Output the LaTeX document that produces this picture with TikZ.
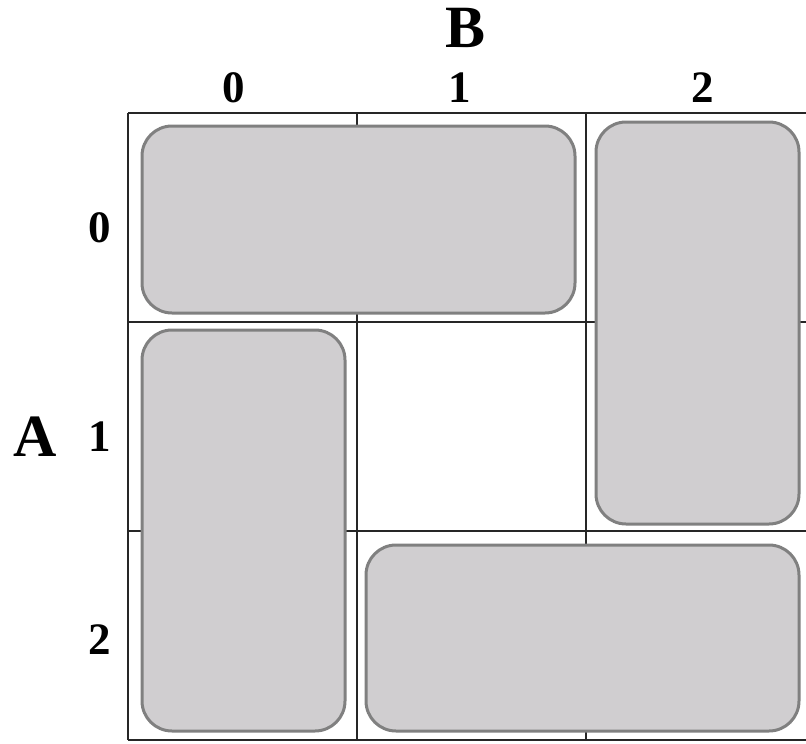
\documentclass[tikz,border=0pt]{standalone}
\usepackage{fontspec}
\setmainfont{Liberation Serif}
\begin{document}
\begin{tikzpicture}[x=1pt,y=-1pt,
  gridline/.style={line width=1.3pt,black!85},
  grp/.style={line width=3pt,rounded corners=30pt},
  lbl/.style={font=\bfseries\fontsize{45}{45}\selectfont,inner sep=0pt},
  big/.style={font=\bfseries\fontsize{60}{60}\selectfont,inner sep=0pt}]
\useasboundingbox (0,0) rectangle (806,744);
% grid
\begin{scope}
\clip (0,0) rectangle (806,744);
\foreach \x in {128,357,586,815} \draw[gridline] (\x,113) -- (\x,740);
\foreach \y in {113,322,531,740} \draw[gridline] (128,\y) -- (815,\y);
\end{scope}
% groups
\definecolor{grpfill}{RGB}{208,206,208}
\definecolor{grpline}{RGB}{128,128,128}
\draw[grp,fill=grpfill,draw=grpline] (142,126) rectangle (575,313);
\draw[grp,fill=grpfill,draw=grpline] (596,122) rectangle (799,524);
\draw[grp,fill=grpfill,draw=grpline] (142,330) rectangle (345,731);
\draw[grp,fill=grpfill,draw=grpline] (366,545) rectangle (799,731);
% labels
\node[big] (B) at (466,28) {B};
\node[big] (A) at (35,437) {A};
\node[lbl] (c0) at (234,88) {0};
\node[lbl] (c1) at (460,88) {1};
\node[lbl] (c2) at (703,88) {2};
\node[lbl] (r0) at (100,228) {0};
\node[lbl] (r1) at (100,437) {1};
\node[lbl] (r2) at (100,640) {2};
\end{tikzpicture}
\end{document}
